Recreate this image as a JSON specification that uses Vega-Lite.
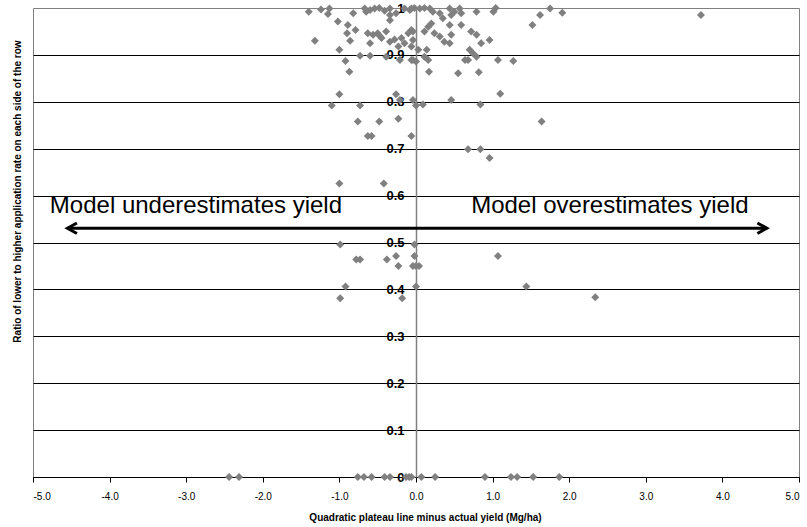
{
  "$schema": "https://vega.github.io/schema/vega-lite/v6.json",
  "autosize": {"type": "none"},
  "padding": {"left": 33, "top": 8, "right": 8, "bottom": 50},
  "width": 766,
  "height": 469,
  "background": "white",
  "config": {
    "font": "Liberation Sans",
    "view": {"stroke": "#808080", "strokeWidth": 1}
  },
  "datasets": {
    "points": [
      {"x": -1.40, "y": 0.992}, {"x": -1.24, "y": 0.997}, {"x": -1.13, "y": 0.999}, {"x": -1.15, "y": 0.987},
      {"x": -1.02, "y": 0.971}, {"x": -0.89, "y": 0.964}, {"x": -0.82, "y": 0.989}, {"x": -0.79, "y": 0.953},
      {"x": -0.90, "y": 0.946}, {"x": -0.86, "y": 0.930}, {"x": -1.32, "y": 0.930}, {"x": -1.00, "y": 0.911},
      {"x": -0.92, "y": 0.887}, {"x": -0.73, "y": 0.898}, {"x": -0.60, "y": 0.898}, {"x": -0.67, "y": 0.999},
      {"x": -0.60, "y": 0.996}, {"x": -0.54, "y": 0.999}, {"x": -0.48, "y": 1.0}, {"x": -0.41, "y": 0.994},
      {"x": -0.34, "y": 0.999}, {"x": -0.34, "y": 0.985}, {"x": -0.26, "y": 0.989}, {"x": -0.15, "y": 0.999},
      {"x": -0.08, "y": 0.996}, {"x": -0.63, "y": 0.946}, {"x": -0.56, "y": 0.943}, {"x": -0.50, "y": 0.946},
      {"x": -0.39, "y": 0.950}, {"x": -0.45, "y": 0.936}, {"x": -0.34, "y": 0.928}, {"x": -0.60, "y": 0.925},
      {"x": -0.19, "y": 0.936}, {"x": -0.10, "y": 0.946}, {"x": -0.06, "y": 0.953}, {"x": -0.04, "y": 0.932},
      {"x": -0.23, "y": 0.918}, {"x": -0.15, "y": 0.925}, {"x": -0.06, "y": 0.918}, {"x": -0.04, "y": 0.889},
      {"x": 0.00, "y": 0.886}, {"x": -0.87, "y": 0.864}, {"x": -0.39, "y": 0.896}, {"x": -0.21, "y": 0.889},
      {"x": -0.06, "y": 0.889}, {"x": -0.34, "y": 0.974}, {"x": -0.28, "y": 0.933}, {"x": -0.65, "y": 0.992},
      {"x": -0.47, "y": 0.940},
      {"x": -0.06, "y": 0.999}, {"x": -0.02, "y": 1.0}, {"x": 0.05, "y": 0.999}, {"x": 0.11, "y": 1.0},
      {"x": 0.18, "y": 0.999}, {"x": 0.22, "y": 0.992}, {"x": 0.31, "y": 0.989}, {"x": 0.35, "y": 0.978},
      {"x": 0.44, "y": 0.999}, {"x": 0.50, "y": 0.992}, {"x": 0.57, "y": 0.999}, {"x": 0.59, "y": 0.989},
      {"x": 0.46, "y": 0.985}, {"x": 0.79, "y": 0.992}, {"x": 1.01, "y": 0.992}, {"x": 1.04, "y": 1.0},
      {"x": 1.52, "y": 0.964}, {"x": 1.62, "y": 0.985}, {"x": 1.75, "y": 0.999}, {"x": 1.91, "y": 0.990},
      {"x": 3.72, "y": 0.985}, {"x": -0.04, "y": 0.950}, {"x": 0.11, "y": 0.950}, {"x": 0.16, "y": 0.960},
      {"x": 0.20, "y": 0.967}, {"x": 0.24, "y": 0.946}, {"x": 0.31, "y": 0.939}, {"x": 0.37, "y": 0.928},
      {"x": 0.44, "y": 0.925}, {"x": 0.46, "y": 0.943}, {"x": 0.59, "y": 0.964}, {"x": 0.44, "y": 0.964},
      {"x": 0.72, "y": 0.950}, {"x": 0.79, "y": 0.943}, {"x": 0.85, "y": 0.925}, {"x": 0.96, "y": 0.932},
      {"x": 0.70, "y": 0.911}, {"x": 0.74, "y": 0.904}, {"x": 0.64, "y": 0.889}, {"x": 1.07, "y": 0.889},
      {"x": 1.27, "y": 0.887}, {"x": 0.11, "y": 0.896}, {"x": 0.16, "y": 0.889}, {"x": 0.03, "y": 0.911},
      {"x": 0.17, "y": 0.864}, {"x": 0.55, "y": 0.861}, {"x": 0.68, "y": 0.889}, {"x": 0.79, "y": 0.896},
      {"x": 0.82, "y": 0.863}, {"x": 0.14, "y": 0.911},
      {"x": -0.04, "y": 0.804}, {"x": 0.00, "y": 0.792}, {"x": 0.09, "y": 0.794}, {"x": 0.46, "y": 0.804},
      {"x": 0.84, "y": 0.794}, {"x": 1.10, "y": 0.817}, {"x": 1.64, "y": 0.758}, {"x": -0.06, "y": 0.727},
      {"x": -1.00, "y": 0.816}, {"x": -1.10, "y": 0.792}, {"x": -0.73, "y": 0.792}, {"x": -0.76, "y": 0.758},
      {"x": -0.48, "y": 0.758}, {"x": -0.23, "y": 0.764}, {"x": -0.26, "y": 0.816}, {"x": -0.21, "y": 0.804},
      {"x": -0.63, "y": 0.727}, {"x": -0.58, "y": 0.727}, {"x": 0.68, "y": 0.699}, {"x": 0.84, "y": 0.699},
      {"x": 0.96, "y": 0.680}, {"x": -1.00, "y": 0.626}, {"x": -0.42, "y": 0.626},
      {"x": -0.99, "y": 0.496}, {"x": -0.02, "y": 0.496}, {"x": -0.78, "y": 0.464}, {"x": -0.73, "y": 0.464},
      {"x": -0.38, "y": 0.464}, {"x": -0.26, "y": 0.471}, {"x": -0.23, "y": 0.450}, {"x": -0.02, "y": 0.471},
      {"x": -0.04, "y": 0.450}, {"x": 0.00, "y": 0.450}, {"x": 0.04, "y": 0.450}, {"x": 1.07, "y": 0.471},
      {"x": -0.92, "y": 0.406}, {"x": 0.00, "y": 0.406}, {"x": 1.44, "y": 0.406}, {"x": -0.99, "y": 0.381},
      {"x": -0.18, "y": 0.381}, {"x": 2.34, "y": 0.383},
      {"x": -2.44, "y": 0}, {"x": -2.31, "y": 0}, {"x": -0.76, "y": 0}, {"x": -0.68, "y": 0},
      {"x": -0.58, "y": 0}, {"x": -0.41, "y": 0}, {"x": -0.34, "y": 0}, {"x": -0.13, "y": 0},
      {"x": -0.09, "y": 0}, {"x": -0.06, "y": 0}, {"x": 0.07, "y": 0}, {"x": 0.25, "y": 0},
      {"x": 0.90, "y": 0}, {"x": 1.24, "y": 0}, {"x": 1.32, "y": 0}, {"x": 1.53, "y": 0},
      {"x": 1.87, "y": 0}
    ],
    "arrow": [
      {"x": -4.55, "x2": 4.58, "y": 0.5305}
    ],
    "heads": [
      {"x": -4.55, "y": 0.5305, "side": "left"},
      {"x": 4.58, "y": 0.5305, "side": "right"}
    ],
    "notes": [
      {"x": -4.78, "y": 0.5626, "label": "Model underestimates yield"},
      {"x": 0.72, "y": 0.5626, "label": "Model overestimates yield"}
    ]
  },
  "encoding": {
    "x": {
      "field": "x",
      "type": "quantitative",
      "scale": {"domain": [-5, 5], "nice": false, "zero": false},
      "axis": {
        "values": [-5, -4, -3, -2, -1, 0, 1, 2, 3, 4, 5],
        "labelExpr": "(datum.value < 0 ? '-' : '') + format(abs(datum.value), '.1f')",
        "labelFont": "Liberation Sans",
        "labelFontSize": 10,
        "labelColor": "black",
        "labelPadding": 9,
        "tickColor": "black",
        "tickSize": 5,
        "domainColor": "black",
        "domainWidth": 1,
        "grid": false,
        "zindex": 0,
        "title": "Quadratic plateau line minus actual yield (Mg/ha)",
        "titleFont": "Liberation Sans",
        "titleFontSize": 10,
        "titleFontWeight": "bold",
        "titleColor": "black",
        "titleX": 392,
        "titleY": 40,
        "titleBaseline": "middle",
        "titleAlign": "center"
      }
    },
    "y": {
      "field": "y",
      "type": "quantitative",
      "scale": {"domain": [0, 1], "nice": false, "zero": false},
      "axis": {
        "orient": "left",
        "offset": -383,
        "values": [0, 0.1, 0.2, 0.3, 0.4, 0.5, 0.6, 0.7, 0.8, 0.9, 1],
        "format": "~g",
        "labelFont": "Liberation Sans",
        "labelFontSize": 13,
        "labelFontWeight": "bold",
        "labelColor": "black",
        "labelPadding": 7,
        "labelBaseline": "middle",
        "tickColor": "black",
        "tickSize": 5,
        "domainColor": "#808080",
        "domainWidth": 1.5,
        "grid": true,
        "gridColor": {"condition": {"test": "datum.value === 1", "value": "transparent"}, "value": "black"},
        "gridWidth": 1,
        "gridOpacity": 1,
        "zindex": 0,
        "title": "Ratio of lower to higher application rate on each side of the row",
        "titleFont": "Liberation Sans",
        "titleFontSize": 10,
        "titleFontWeight": "bold",
        "titleColor": "black",
        "titleAngle": 270,
        "titleX": -399,
        "titleY": 183,
        "titleAlign": "center",
        "titleBaseline": "middle"
      }
    }
  },
  "layer": [
    {
      "data": {"name": "points"},
      "mark": {"type": "point", "shape": "diamond", "filled": true, "color": "#808080", "opacity": 1, "size": 64}
    },
    {
      "data": {"name": "arrow"},
      "mark": {"type": "rule", "color": "black", "strokeWidth": 3},
      "encoding": {"x2": {"field": "x2"}}
    },
    {
      "data": {"name": "heads"},
      "mark": {"type": "point", "filled": false, "stroke": "black", "strokeWidth": 3, "opacity": 1, "size": 110, "strokeJoin": "miter"},
      "encoding": {
        "shape": {
          "field": "side",
          "type": "nominal",
          "scale": {"domain": ["left", "right"], "range": ["M1.8,-1L0,0L1.8,1", "M-1.8,-1L0,0L-1.8,1"]},
          "legend": null
        }
      }
    },
    {
      "data": {"name": "notes"},
      "mark": {"type": "text", "align": "left", "baseline": "alphabetic", "font": "Liberation Sans", "fontSize": 24, "color": "black"},
      "encoding": {"text": {"field": "label"}}
    }
  ]
}
